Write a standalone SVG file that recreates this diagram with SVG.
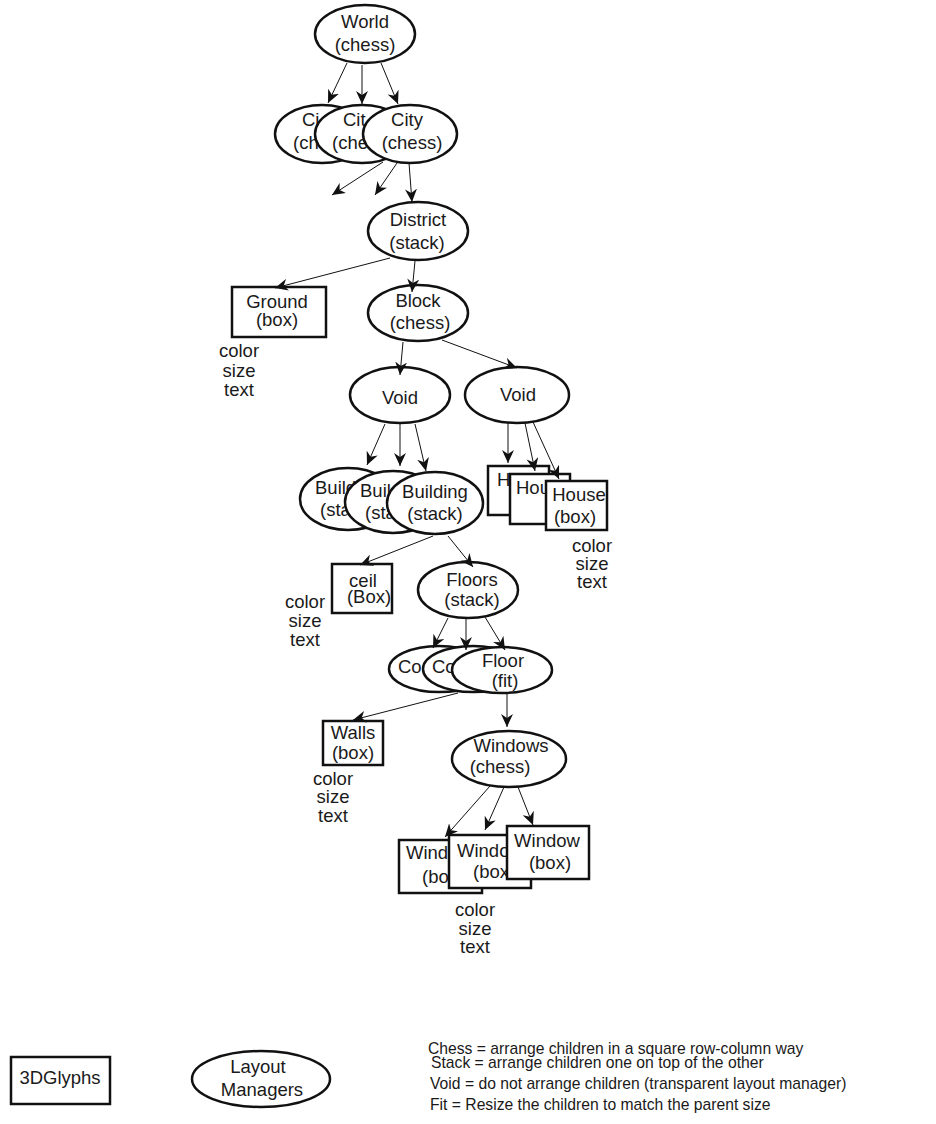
<svg xmlns="http://www.w3.org/2000/svg" width="936" height="1124" viewBox="0 0 936 1124">
  <defs>
    <style>
      .n { fill: #fff; stroke: #111; stroke-width: 2.5; }
      .t { font-family: "Liberation Sans", Arial, sans-serif; font-size: 18.5px; fill: #1a1a1a; text-anchor: middle; }
      .ts { text-anchor: start; }
      .lg { font-family: "Liberation Sans", Arial, sans-serif; font-size: 15.7px; fill: #1a1a1a; }
      .e { fill: none; stroke: #111; stroke-width: 1; marker-end: url(#arr); }
    </style>
    <marker id="arr" markerUnits="userSpaceOnUse" viewBox="0 0 13 12" refX="13" refY="6" markerWidth="13" markerHeight="12" orient="auto">
      <path d="M0,0 L13,6 L0,12 L4,6 Z" fill="#111"/>
    </marker>
  </defs>
  <rect width="936" height="1124" fill="#fff"/>

  <g id="world">
    <ellipse class="n" cx="365" cy="34" rx="50" ry="29"/>
    <text class="t" x="365" y="28">World</text>
    <text class="t" x="365" y="51">(chess)</text>
  </g>

  <!-- stacked cities: each one partly covers the previous -->
  <g id="city-1">
    <ellipse class="n" cx="322" cy="134" rx="47" ry="29"/>
    <text class="t ts" x="302" y="126">Ci</text>
    <text class="t ts" x="293" y="149">(ch</text>
  </g>
  <g id="city-2">
    <ellipse class="n" cx="362" cy="134" rx="47" ry="29"/>
    <text class="t ts" x="343" y="126">Cit</text>
    <text class="t ts" x="332" y="149">(che</text>
  </g>
  <g id="city-3">
    <ellipse class="n" cx="410" cy="134" rx="47" ry="29"/>
    <text class="t" x="407" y="126">City</text>
    <text class="t" x="412" y="149">(chess)</text>
  </g>

  <g id="district">
    <ellipse class="n" cx="418" cy="231" rx="50" ry="29"/>
    <text class="t" x="418" y="226">District</text>
    <text class="t" x="417" y="249">(stack)</text>
  </g>

  <g id="ground">
    <rect class="n" x="232" y="287" width="94" height="50"/>
    <text class="t" x="277" y="308">Ground</text>
    <text class="t" x="277" y="326">(box)</text>
    <text class="t" x="239" y="357">color</text>
    <text class="t" x="239" y="377">size</text>
    <text class="t" x="239" y="396">text</text>
  </g>

  <g id="block">
    <ellipse class="n" cx="418" cy="313" rx="50" ry="28"/>
    <text class="t" x="418" y="307">Block</text>
    <text class="t" x="420" y="329">(chess)</text>
  </g>

  <g id="void-left">
    <ellipse class="n" cx="400" cy="395" rx="50" ry="28"/>
    <text class="t" x="400" y="404">Void</text>
  </g>
  <g id="void-right">
    <ellipse class="n" cx="517" cy="395" rx="52" ry="28"/>
    <text class="t" x="518" y="401">Void</text>
  </g>

  <g id="building-1">
    <ellipse class="n" cx="348" cy="499" rx="48" ry="31"/>
    <text class="t ts" x="315" y="494">Build</text>
    <text class="t ts" x="320" y="516">(sta</text>
  </g>
  <g id="building-2">
    <ellipse class="n" cx="393" cy="502" rx="48" ry="31"/>
    <text class="t ts" x="360" y="497">Buil</text>
    <text class="t ts" x="365" y="519">(sta</text>
  </g>
  <g id="building-3">
    <ellipse class="n" cx="435" cy="503" rx="48" ry="31"/>
    <text class="t" x="435" y="498">Building</text>
    <text class="t" x="435" y="520">(stack)</text>
  </g>

  <g id="house-1">
    <rect class="n" x="488" y="466" width="61" height="49"/>
    <text class="t ts" x="497" y="486">H</text>
  </g>
  <g id="house-2">
    <rect class="n" x="510" y="474" width="60" height="50"/>
    <text class="t ts" x="516" y="494">Hou</text>
  </g>
  <g id="house-3">
    <rect class="n" x="546" y="481" width="61" height="49"/>
    <text class="t" x="579" y="501">House</text>
    <text class="t" x="575" y="523">(box)</text>
    <text class="t" x="592" y="552">color</text>
    <text class="t" x="592" y="570">size</text>
    <text class="t" x="592" y="588">text</text>
  </g>

  <g id="ceil">
    <rect class="n" x="332" y="564" width="60" height="49"/>
    <text class="t" x="363" y="587">ceil</text>
    <text class="t" x="369" y="603">(Box)</text>
    <text class="t" x="305" y="608">color</text>
    <text class="t" x="305" y="627">size</text>
    <text class="t" x="305" y="646">text</text>
  </g>

  <g id="floors">
    <ellipse class="n" cx="468" cy="590" rx="50" ry="28"/>
    <text class="t" x="472" y="586">Floors</text>
    <text class="t" x="472" y="606">(stack)</text>
  </g>

  <g id="floor-1">
    <ellipse class="n" cx="439" cy="669" rx="50" ry="23"/>
    <text class="t ts" x="398" y="673">Co</text>
  </g>
  <g id="floor-2">
    <ellipse class="n" cx="473" cy="669" rx="50" ry="23"/>
    <text class="t ts" x="432" y="673">Co</text>
  </g>
  <g id="floor-3">
    <ellipse class="n" cx="502" cy="670" rx="50" ry="23"/>
    <text class="t" x="503" y="667">Floor</text>
    <text class="t" x="505" y="687">(fit)</text>
  </g>

  <g id="walls">
    <rect class="n" x="323" y="721" width="60" height="44"/>
    <text class="t" x="353" y="739">Walls</text>
    <text class="t" x="353" y="759">(box)</text>
    <text class="t" x="333" y="785">color</text>
    <text class="t" x="333" y="803">size</text>
    <text class="t" x="333" y="822">text</text>
  </g>

  <g id="windows">
    <ellipse class="n" cx="509" cy="759" rx="57" ry="28"/>
    <text class="t" x="511" y="752">Windows</text>
    <text class="t" x="500" y="773">(chess)</text>
  </g>

  <g id="window-1">
    <rect class="n" x="399" y="840" width="83" height="53"/>
    <text class="t ts" x="406" y="859">Wind</text>
    <text class="t ts" x="422" y="883">(bo</text>
  </g>
  <g id="window-2">
    <rect class="n" x="449" y="835" width="82" height="53"/>
    <text class="t ts" x="457" y="857">Windo</text>
    <text class="t ts" x="473" y="878">(box</text>
  </g>
  <g id="window-3">
    <rect class="n" x="507" y="826" width="82" height="53"/>
    <text class="t" x="547" y="847">Window</text>
    <text class="t" x="550" y="869">(box)</text>
    <text class="t" x="475" y="916">color</text>
    <text class="t" x="475" y="935">size</text>
    <text class="t" x="475" y="953">text</text>
  </g>

  <g id="connectors">
    <path class="e" d="M347,63 L328,103"/>
    <path class="e" d="M362,65 L362,104"/>
    <path class="e" d="M381,63 L398,104"/>
    <path class="e" d="M383,162 L332,195"/>
    <path class="e" d="M397,163 L375,195"/>
    <path class="e" d="M409,163 L412,202"/>
    <path class="e" d="M390,258 L275,288"/>
    <path class="e" d="M415,261 L412,292"/>
    <path class="e" d="M403,342 L400,375"/>
    <path class="e" d="M442,340 L517,368"/>
    <path class="e" d="M385,424 L367,465"/>
    <path class="e" d="M400,424 L400,466"/>
    <path class="e" d="M415,424 L426,471"/>
    <path class="e" d="M508,423 L508,463"/>
    <path class="e" d="M525,423 L535,471"/>
    <path class="e" d="M533,422 L559,479"/>
    <path class="e" d="M433,536 L360,565"/>
    <path class="e" d="M448,536 L473,567"/>
    <path class="e" d="M448,618 L433,648"/>
    <path class="e" d="M466,618 L466,650"/>
    <path class="e" d="M485,617 L505,650"/>
    <path class="e" d="M458,693 L353,720"/>
    <path class="e" d="M507,693 L507,727"/>
    <path class="e" d="M490,786 L445,837"/>
    <path class="e" d="M504,787 L485,830"/>
    <path class="e" d="M518,787 L533,825"/>
  </g>

  <g id="legend-3dglyphs">
    <rect class="n" x="11" y="1057" width="99" height="47"/>
    <text class="t" x="60" y="1084">3DGlyphs</text>
  </g>
  <g id="legend-layout-managers">
    <ellipse class="n" cx="261" cy="1079" rx="69" ry="28"/>
    <text class="t" x="258" y="1073">Layout</text>
    <text class="t" x="262" y="1096">Managers</text>
  </g>
  <g id="legend-notes">
    <text class="lg" x="428" y="1054">Chess = arrange children in a square row-column way</text>
    <text class="lg" x="431" y="1068">Stack = arrange children one on top of the other</text>
    <text class="lg" x="430" y="1089">Void = do not arrange children (transparent layout manager)</text>
    <text class="lg" x="430" y="1110">Fit = Resize the children to match the parent size</text>
  </g>
</svg>
